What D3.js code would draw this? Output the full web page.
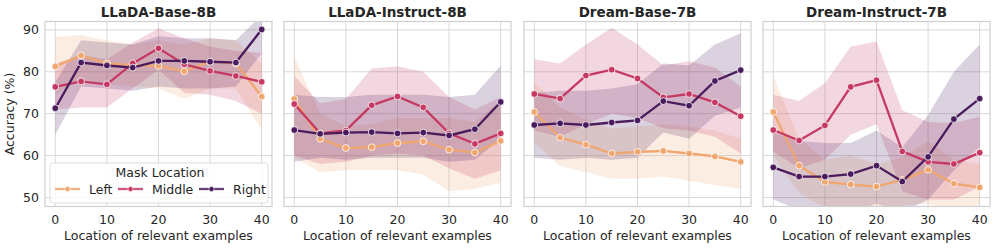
<!DOCTYPE html>
<html>
<head>
<meta charset="utf-8">
<script src="https://cdn.jsdelivr.net/npm/d3@7"></script>
<style>
  body { margin: 0; background: #fff; }
  text { font-family: "DejaVu Sans", sans-serif; fill: #262626; }
</style>
</head>
<body>
<svg id="chart" width="996" height="248"></svg>
<script>
// x positions of the relevant examples
var positions = [0, 5, 10, 15, 20, 25, 30, 35, 40];
var panelTitles = ["LLaDA-Base-8B", "LLaDA-Instruct-8B", "Dream-Base-7B", "Dream-Instruct-7B"];
var seriesNames = ["Left", "Middle", "Right"];
var seriesColors = ["#f0a66f", "#c53963", "#4a1c5d"];
var yTicks = [50, 60, 70, 80, 90];
var xTicks = [0, 10, 20, 30, 40];

// mean accuracy, one array per panel per series (Left, Middle, Right)
var llamaBaseMean = [
  [81.3, 83.9, 82.0, 81.6, 81.4, 80.1, 82.4, 82.0, 74.1],
  [76.4, 77.7, 77.0, 82.0, 85.6, 81.8, 80.2, 79.0, 77.6],
  [71.3, 82.2, 81.5, 81.0, 82.6, 82.6, 82.4, 82.2, 90.1]
];
var llamaBaseLow = [
  [74.5, 78.5, 77.0, 76.5, 76.0, 73.5, 76.0, 76.0, 66.0],
  [71.0, 71.5, 71.5, 76.0, 80.5, 75.0, 74.5, 73.0, 70.0],
  [65.0, 76.5, 76.0, 75.5, 76.5, 76.0, 76.0, 76.5, 84.5]
];
var llamaBaseHigh = [
  [88.3, 88.8, 87.5, 86.5, 87.5, 86.5, 88.0, 87.5, 82.0],
  [82.0, 84.0, 83.0, 87.0, 90.3, 88.0, 86.0, 85.0, 84.5],
  [77.5, 87.5, 87.0, 86.5, 88.5, 88.0, 88.0, 87.5, 93.5]
];

var llamaInstMean = [
  [73.5, 64.0, 61.8, 62.0, 63.0, 63.4, 61.4, 60.7, 63.5],
  [72.3, 65.3, 66.0, 72.0, 74.1, 71.5, 65.3, 62.8, 65.3],
  [66.1, 65.2, 65.5, 65.6, 65.3, 65.5, 64.8, 66.3, 72.8]
];
var llamaInstLow = [
  [59.5, 56.0, 56.5, 56.5, 56.5, 55.5, 51.5, 52.0, 53.5],
  [60.0, 58.0, 58.5, 60.0, 60.5, 60.0, 57.0, 54.5, 56.5],
  [58.5, 59.5, 59.0, 59.5, 59.5, 59.5, 58.5, 59.0, 64.0]
];
var llamaInstHigh = [
  [83.5, 70.0, 67.0, 67.5, 69.0, 69.0, 69.0, 68.0, 73.0],
  [79.0, 72.5, 73.5, 80.8, 81.3, 80.0, 74.0, 71.0, 74.0],
  [74.5, 74.0, 74.0, 74.5, 74.5, 74.5, 74.0, 74.5, 81.5]
];

var dreamBaseMean = [
  [70.4, 64.3, 62.6, 60.5, 60.9, 61.1, 60.5, 59.8, 58.5],
  [74.7, 73.6, 79.1, 80.5, 78.4, 73.9, 74.7, 72.7, 69.4],
  [67.3, 67.7, 67.3, 67.9, 68.4, 73.0, 71.9, 77.8, 80.4]
];
var dreamBaseLow = [
  [63.0, 57.5, 56.0, 54.5, 54.5, 55.0, 54.0, 53.0, 52.0],
  [66.0, 64.5, 67.5, 70.0, 69.0, 66.5, 66.0, 64.5, 60.5],
  [59.5, 59.0, 59.5, 59.0, 59.5, 65.5, 64.0, 69.5, 71.5]
];
var dreamBaseHigh = [
  [77.5, 71.5, 68.5, 66.5, 67.0, 67.5, 67.0, 66.0, 64.0],
  [83.0, 82.0, 86.5, 90.5, 86.5, 81.5, 82.5, 81.0, 76.5],
  [75.0, 75.5, 75.5, 76.0, 77.0, 82.0, 81.5, 86.5, 89.2]
];

var dreamInstMean = [
  [70.4, 57.6, 53.7, 53.1, 52.6, 54.2, 56.6, 53.3, 52.4],
  [66.1, 63.6, 67.2, 76.4, 78.0, 61.0, 58.5, 58.0, 60.7],
  [57.2, 55.0, 55.0, 55.6, 57.6, 53.8, 59.7, 68.7, 73.6]
];
var dreamInstLow = [
  [60.0, 51.0, 47.5, 46.5, 47.0, 48.0, 48.5, 46.5, 46.0],
  [61.0, 57.0, 59.0, 65.0, 67.5, 51.5, 49.5, 49.5, 52.5],
  [49.5, 47.0, 46.5, 46.5, 48.5, 46.5, 49.5, 56.5, 62.0]
];
var dreamInstHigh = [
  [79.0, 64.0, 59.0, 60.0, 58.0, 59.5, 63.5, 59.0, 58.0],
  [74.5, 73.0, 77.3, 86.0, 87.2, 70.8, 68.0, 67.7, 69.3],
  [65.5, 63.5, 63.0, 63.0, 66.0, 62.0, 69.7, 80.0, 86.5]
];

var panelMeans = [llamaBaseMean, llamaInstMean, dreamBaseMean, dreamInstMean];
var panelLows = [llamaBaseLow, llamaInstLow, dreamBaseLow, dreamInstLow];
var panelHighs = [llamaBaseHigh, llamaInstHigh, dreamBaseHigh, dreamInstHigh];

var svg = d3.select("#chart");
var panelLeft = [45, 284, 524, 763];
var panelW = 227;
var plotTop = 21.5, plotBottom = 206.5;

var y = d3.scaleLinear().domain([47.85, 92.0]).range([plotBottom, plotTop]);

panelTitles.forEach(function(title, p) {
  var x = d3.scaleLinear().domain([-2, 42]).range([panelLeft[p], panelLeft[p] + panelW]);
  var g = svg.append("g");

  // grid
  g.selectAll(".gy").data(yTicks).enter().append("line")
    .attr("x1", panelLeft[p]).attr("x2", panelLeft[p] + panelW)
    .attr("y1", function(d) { return y(d); }).attr("y2", function(d) { return y(d); })
    .attr("stroke", "#d9d9d9").attr("stroke-width", 1);
  g.selectAll(".gx").data(xTicks).enter().append("line")
    .attr("y1", plotTop).attr("y2", plotBottom)
    .attr("x1", function(d) { return x(d); }).attr("x2", function(d) { return x(d); })
    .attr("stroke", "#d9d9d9").attr("stroke-width", 1);

  // bands
  var area = d3.area()
    .x(function(d) { return x(d.x); })
    .y0(function(d) { return y(d.lo); })
    .y1(function(d) { return y(d.hi); });
  var clipId = "clip" + p;
  svg.append("clipPath").attr("id", clipId).append("rect")
    .attr("x", panelLeft[p]).attr("y", plotTop).attr("width", panelW).attr("height", plotBottom - plotTop);
  var plot = g.append("g").attr("clip-path", "url(#" + clipId + ")");

  seriesNames.forEach(function(name, s) {
    var pts = positions.map(function(v, i) {
      return {x: v, lo: panelLows[p][s][i], hi: panelHighs[p][s][i]};
    });
    plot.append("path").datum(pts).attr("d", area)
      .attr("fill", seriesColors[s]).attr("fill-opacity", 0.2);
  });

  var line = d3.line()
    .x(function(d) { return x(d.x); })
    .y(function(d) { return y(d.y); });

  seriesNames.forEach(function(name, s) {
    var pts = positions.map(function(v, i) { return {x: v, y: panelMeans[p][s][i]}; });
    plot.append("path").datum(pts).attr("d", line)
      .attr("fill", "none").attr("stroke", seriesColors[s]).attr("stroke-width", 2.3);
    plot.selectAll(".m" + s).data(pts).enter().append("circle")
      .attr("cx", function(d) { return x(d.x); })
      .attr("cy", function(d) { return y(d.y); })
      .attr("r", 3.4)
      .attr("fill", seriesColors[s]).attr("stroke", "#fff").attr("stroke-width", 0.8);
  });

  // frame
  g.append("rect")
    .attr("x", panelLeft[p]).attr("y", plotTop).attr("width", panelW).attr("height", plotBottom - plotTop)
    .attr("fill", "none").attr("stroke", "#cfcfcf").attr("stroke-width", 1.2);

  // x ticks
  g.selectAll(".tx").data(xTicks).enter().append("text")
    .attr("x", function(d) { return x(d); }).attr("y", 224)
    .attr("text-anchor", "middle").attr("font-size", 12.5)
    .text(function(d) { return d; });
  g.append("text")
    .attr("x", panelLeft[p] + panelW / 2).attr("y", 240)
    .attr("text-anchor", "middle").attr("font-size", 12.5)
    .text("Location of relevant examples");

  // title
  g.append("text")
    .attr("x", panelLeft[p] + panelW / 2).attr("y", 17)
    .attr("text-anchor", "middle").attr("font-size", 13.5).attr("font-weight", "bold")
    .text(title);

  if (p === 0) {
    g.selectAll(".ty").data(yTicks).enter().append("text")
      .attr("x", 39).attr("y", function(d) { return y(d) + 4.5; })
      .attr("text-anchor", "end").attr("font-size", 12.5)
      .text(function(d) { return d; });
    g.append("text")
      .attr("transform", "translate(14," + ((plotTop + plotBottom) / 2) + ") rotate(-90)")
      .attr("text-anchor", "middle").attr("font-size", 12.5)
      .text("Accuracy (%)");
  }
});

// legend
var lg = svg.append("g");
lg.append("rect").attr("x", 50).attr("y", 163).attr("width", 218).attr("height", 40)
  .attr("rx", 3).attr("fill", "#fff").attr("fill-opacity", 0.85)
  .attr("stroke", "#dddddd").attr("stroke-width", 1);
lg.append("text").attr("x", 160).attr("y", 177).attr("text-anchor", "middle")
  .attr("font-size", 12.5).text("Mask Location");
var legX = [55, 118, 199];
seriesNames.forEach(function(name, s) {
  lg.append("line").attr("x1", legX[s]).attr("x2", legX[s] + 25)
    .attr("y1", 189).attr("y2", 189)
    .attr("stroke", seriesColors[s]).attr("stroke-width", 2.3).attr("stroke-opacity", 0.85);
  lg.append("circle").attr("cx", legX[s] + 12.5).attr("cy", 189).attr("r", 2.6)
    .attr("fill", seriesColors[s]).attr("stroke", "#fff").attr("stroke-width", 0.6);
  lg.append("text").attr("x", legX[s] + 34).attr("y", 193.5)
    .attr("font-size", 12.5).text(name);
});
</script>
</body>
</html>
